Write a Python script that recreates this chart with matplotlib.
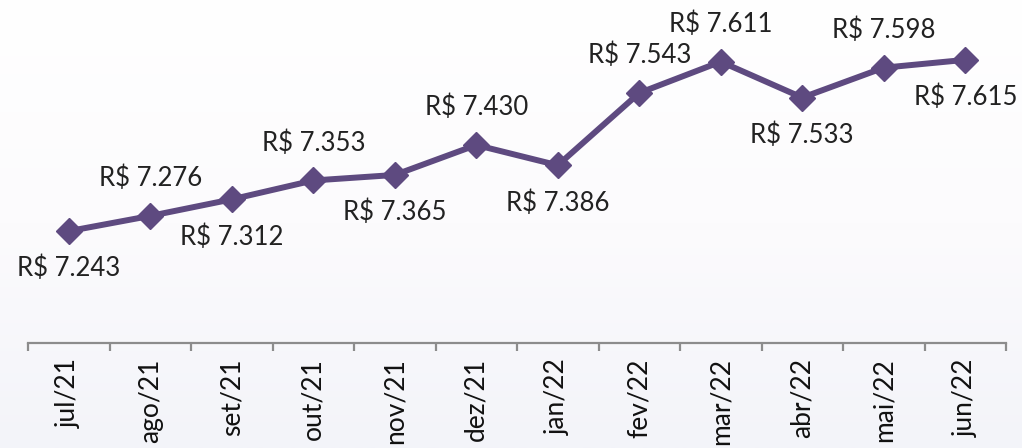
import numpy as np
import matplotlib.pyplot as plt
from matplotlib.colors import LinearSegmentedColormap

months = ["jul/21", "ago/21", "set/21", "out/21", "nov/21", "dez/21",
          "jan/22", "fev/22", "mar/22", "abr/22", "mai/22", "jun/22"]
values = [7.243, 7.276, 7.312, 7.353, 7.365, 7.430,
          7.386, 7.543, 7.611, 7.533, 7.598, 7.615]
# label above (+1) or below (-1) the point
label_side = [-1, 1, -1, 1, -1, 1, -1, 1, 1, -1, 1, -1]

plt.rcParams['font.family'] = ['Lato', 'DejaVu Sans']

fig = plt.figure(figsize=(10.22, 4.48), dpi=100)

# soft background gradient
bg = fig.add_axes([0, 0, 1, 1], zorder=-10)
grad = np.linspace(0, 1, 256).reshape(-1, 1)
cmap = LinearSegmentedColormap.from_list("bg", ["#ffffff", "#fcfbfd", "#f3f4f9"])
bg.imshow(grad, aspect="auto", cmap=cmap, extent=[0, 1, 0, 1], origin="upper")
bg.axis("off")

ax = fig.add_axes([28 / 1022, 105 / 448, 978 / 1022, 343 / 448])
ax.patch.set_alpha(0)

x = np.arange(len(months))
color = "#5e4a80"
ax.plot(x, values, color=color, lw=4.3, marker="D", markersize=13,
        markeredgecolor=color, markerfacecolor=color, solid_joinstyle="miter")

for xi, v, s in zip(x, values, label_side):
    ax.annotate(f"R$ {v:.3f}", (xi, v), xytext=(0, 27 * s),
                textcoords="offset points", ha="center", va="center",
                fontsize=18.5, color="#222222")

ax.set_xlim(-0.5, len(months) - 0.5)
ax.set_ylim(7.0, 7.745)

for side in ["top", "right", "left"]:
    ax.spines[side].set_visible(False)
ax.spines["bottom"].set_color("#8c8c8c")
ax.spines["bottom"].set_linewidth(1.6)
ax.set_yticks([])

ax.set_xticks(x)
ax.set_xticklabels(months, rotation=90, fontsize=19, color="#111111")
ax.tick_params(axis="x", which="major", length=0, pad=11)
ax.set_xticks(np.arange(-0.5, len(months)), minor=True)
ax.tick_params(axis="x", which="minor", length=6, width=1.6, color="#8c8c8c")

fig.savefig("out.png", dpi=100)
